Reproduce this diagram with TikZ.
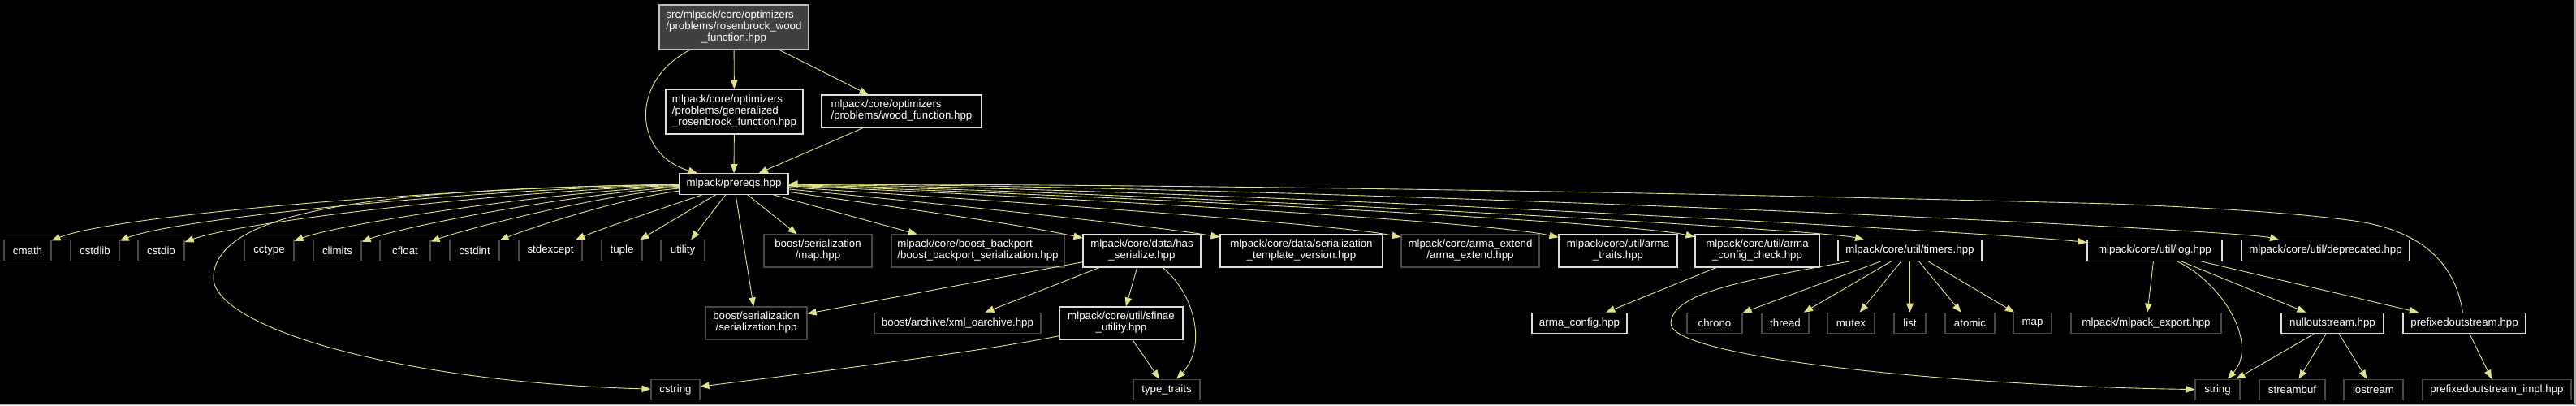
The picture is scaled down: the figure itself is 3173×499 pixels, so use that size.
\documentclass[tikz,border=0pt]{standalone}
\usepackage{fontspec}
\setmainfont{Liberation Sans}
\usetikzlibrary{arrows.meta}
\definecolor{edgec}{RGB}{226,226,138}
\definecolor{linkb}{RGB}{222,222,222}
\definecolor{extb}{RGB}{72,72,72}
\definecolor{rootf}{RGB}{64,64,64}
\definecolor{rootb}{RGB}{191,191,191}
\newcommand{\mlA}[2]{\begin{tabular}{@{}l@{}}#1\\\multicolumn{1}{@{}c@{}}{#2}\end{tabular}}
\newcommand{\mlB}[3]{\begin{tabular}{@{}l@{}}#1\\#2\\\multicolumn{1}{@{}c@{}}{#3}\end{tabular}}
\tikzset{
  nb/.style={rectangle, draw, line width=1.1pt, fill=black, text=white,
    font=\fontsize{13.3}{14}\selectfont, inner xsep=3pt, inner ysep=2pt, minimum height=25.5pt},
  lk/.style={nb, draw=linkb},
  ex/.style={nb, draw=extb},
  two/.style={minimum height=40pt},
  three/.style={minimum height=55pt},
  rootbox/.style={nb, draw=rootb, fill=rootf, three},
  edge/.style={draw=edgec, line width=0.9pt, -{Triangle[length=11pt,width=8.5pt]}}
}
\begin{document}
\begin{tikzpicture}[x=1pt,y=-1pt]
\useasboundingbox (0,0) rectangle (3173,499);
\fill[black] (0,0) rectangle (3173,499);
\draw[gray!70, line width=1.5pt] (0,498.2) -- (3172.2,498.2) -- (3172.2,0);

% top
\node[rootbox, minimum width=184pt] (root) at (904,33.5) {\mlB{src/mlpack/core/optimizers}{/problems/rosenbrock\_wood}{\_function.hpp}};
\node[lk, three, minimum width=169pt] (gen) at (904.5,137.5) {\mlB{mlpack/core/optimizers}{/problems/generalized}{\_rosenbrock\_function.hpp}};
\node[lk, two, minimum width=197pt] (wood) at (1110.5,137) {\mlA{mlpack/core/optimizers}{/problems/wood\_function.hpp}};
\node[lk, minimum width=134pt] (prereqs) at (904,226.5) {mlpack/prereqs.hpp};

% row 2
\node[ex, minimum width=58pt] (cmath) at (34,308.5) {cmath};
\node[ex, minimum width=60pt] (cstdlib) at (117,308.5) {cstdlib};
\node[ex, minimum width=57pt] (cstdio) at (198.5,308.5) {cstdio};
\node[ex, minimum width=61pt] (cctype) at (331.5,308.5) {cctype};
\node[ex, minimum width=59pt] (climits) at (415.5,308.5) {climits};
\node[ex, minimum width=62pt] (cfloat) at (499,308.5) {cfloat};
\node[ex, minimum width=61pt] (cstdint) at (584.5,308.5) {cstdint};
\node[ex, minimum width=78pt] (stdexcept) at (678,308.5) {stdexcept};
\node[ex, minimum width=50pt] (tuple) at (766,308.5) {tuple};
\node[ex, minimum width=54pt] (utility) at (841,308.5) {utility};
\node[ex, two, minimum width=133pt] (maphpp) at (1007.5,309) {\mlA{boost/serialization}{/map.hpp}};
\node[ex, two, minimum width=213pt] (backport) at (1204.5,309) {\mlA{mlpack/core/boost\_backport}{/boost\_backport\_serialization.hpp}};
\node[lk, two, minimum width=145pt] (hasser) at (1406.5,309) {\mlA{mlpack/core/data/has}{\_serialize.hpp}};
\node[lk, two, minimum width=200pt] (tmplver) at (1603,309) {\mlA{mlpack/core/data/serialization}{\_template\_version.hpp}};
\node[ex, two, minimum width=170pt] (armaext) at (1811,309) {\mlA{mlpack/core/arma\_extend}{/arma\_extend.hpp}};
\node[lk, two, minimum width=146pt] (armatraits) at (1993,309) {\mlA{mlpack/core/util/arma}{\_traits.hpp}};
\node[lk, two, minimum width=153pt] (armacc) at (2164.5,309) {\mlA{mlpack/core/util/arma}{\_config\_check.hpp}};
\node[lk, minimum width=177pt] (timers) at (2352.5,308.5) {mlpack/core/util/timers.hpp};
\node[lk, minimum width=166pt] (log) at (2654,308.5) {mlpack/core/util/log.hpp};
\node[lk, minimum width=207pt] (deprecated) at (2864.5,308.5) {mlpack/core/util/deprecated.hpp};

% row 3
\node[ex, two, minimum width=125pt] (serhpp) at (931.5,398) {\mlA{boost/serialization}{/serialization.hpp}};
\node[ex, minimum width=205pt] (xml) at (1179.5,398) {boost/archive/xml\_oarchive.hpp};
\node[lk, two, minimum width=152pt] (sfinae) at (1381,398) {\mlA{mlpack/core/util/sfinae}{\_utility.hpp}};
\node[lk, minimum width=117pt] (armaconfig) at (1945.5,398) {arma\_config.hpp};
\node[ex, minimum width=68pt] (chrono) at (2112,398) {chrono};
\node[ex, minimum width=58pt] (thread) at (2199,398) {thread};
\node[ex, minimum width=58pt] (mutex) at (2280,398) {mutex};
\node[ex, minimum width=39pt] (list) at (2352.5,398) {list};
\node[ex, minimum width=61pt] (atomic) at (2426.5,398) {atomic};
\node[ex, minimum width=47pt] (mapstd) at (2503.5,398) {map};
\node[ex, minimum width=185pt] (export) at (2643.5,398) {mlpack/mlpack\_export.hpp};
\node[lk, minimum width=126pt] (nullout) at (2873,398) {nulloutstream.hpp};
\node[lk, minimum width=151pt] (prefixed) at (3035.5,398) {prefixedoutstream.hpp};

% row 4
\node[ex, minimum width=60pt] (cstring) at (832,480) {cstring};
\node[ex, minimum width=82pt] (typetraits) at (1437,480) {type\_traits};
\node[ex, minimum width=55pt] (string) at (2731.5,480) {string};
\node[ex, minimum width=81pt] (streambuf) at (2823.5,480) {streambuf};
\node[ex, minimum width=73pt] (iostream) at (2923.5,480) {iostream};
\node[ex, minimum width=183pt] (impl) at (3075.5,480) {prefixedoutstream\_impl.hpp};

% edges from root
\draw[edge] (root) -- (gen);
\draw[edge] (root) -- (wood);
\draw[edge] (root) .. controls (775,100) and (780,190) .. (prereqs);
\draw[edge] (gen) -- (prereqs);
\draw[edge] (wood) -- (prereqs);

% prereqs, left fan
\draw[edge] (prereqs) .. controls (560,230) and (140,265) .. (cmath);
\draw[edge] (prereqs) .. controls (600,232) and (220,268) .. (cstdlib);
\draw[edge] (prereqs) .. controls (640,234) and (300,272) .. (cstdio);
\draw[edge] (prereqs) .. controls (680,236) and (420,275) .. (cctype);
\draw[edge] (prereqs) .. controls (710,238) and (500,278) .. (climits);
\draw[edge] (prereqs) .. controls (740,240) and (580,280) .. (cfloat);
\draw[edge] (prereqs) .. controls (760,245) and (650,282) .. (cstdint);
\draw[edge] (prereqs) .. controls (800,262) and (740,282) .. (stdexcept);
\draw[edge] (prereqs) -- (tuple);
\draw[edge] (prereqs) -- (utility);
\draw[edge] (prereqs) -- (serhpp);
\draw[edge] (prereqs) -- (maphpp);
\draw[edge] (prereqs) -- (backport);
\draw[edge] (prereqs) .. controls (450,232) and (268,262) .. (263,340) .. controls (258,400) and (480,470) .. (cstring);

% prereqs, right fan
\draw[edge] (prereqs) .. controls (1100,255) and (1250,275) .. (hasser);
\draw[edge] (prereqs) .. controls (1150,250) and (1420,278) .. (tmplver);
\draw[edge] (prereqs) .. controls (1200,245) and (1640,275) .. (armaext);
\draw[edge] (prereqs) .. controls (1250,240) and (1830,272) .. (armatraits);
\draw[edge] (prereqs) .. controls (1300,238) and (2000,272) .. (armacc);
\draw[edge] (prereqs) .. controls (1400,236) and (2240,282) .. (timers);
\draw[edge] (prereqs) .. controls (1500,232) and (2480,288) .. (log);
\draw[edge] (prereqs) .. controls (1600,228) and (2750,282) .. (deprecated);

% has_serialize
\draw[edge] (hasser) -- (serhpp);
\draw[edge] (hasser) -- (xml);
\draw[edge] (hasser) -- (sfinae);
\draw[edge] (hasser) .. controls (1470,360) and (1488,425) .. (typetraits);
\draw[edge] (sfinae) -- (typetraits);
\draw[edge] (sfinae) .. controls (1200,435) and (950,465) .. (cstring);

\draw[edge] (armacc) -- (armaconfig);

% timers
\draw[edge] (timers) -- (chrono);
\draw[edge] (timers) -- (thread);
\draw[edge] (timers) -- (mutex);
\draw[edge] (timers) -- (list);
\draw[edge] (timers) -- (atomic);
\draw[edge] (timers) -- (mapstd);
\draw[edge] (timers) .. controls (2150,345) and (2060,360) .. (2058,398) .. controls (2056,440) and (2400,475) .. (string);

% log
\draw[edge] (log) -- (export);
\draw[edge] (log) .. controls (2740,350) and (2782,425) .. (string);
\draw[edge] (log) -- (nullout);
\draw[edge] (log) -- (prefixed);

% nulloutstream
\draw[edge] (nullout) -- (string);
\draw[edge] (nullout) -- (streambuf);
\draw[edge] (nullout) -- (iostream);

% prefixedoutstream
\draw[edge] (prefixed) -- (impl);
\draw[edge] (prefixed) .. controls (3025,330) and (2990,285) .. (2900,272) .. controls (2820,261) and (2700,255) .. (2600,251) .. controls (2000,235) and (1400,227) .. (prereqs);
\end{tikzpicture}
\end{document}
